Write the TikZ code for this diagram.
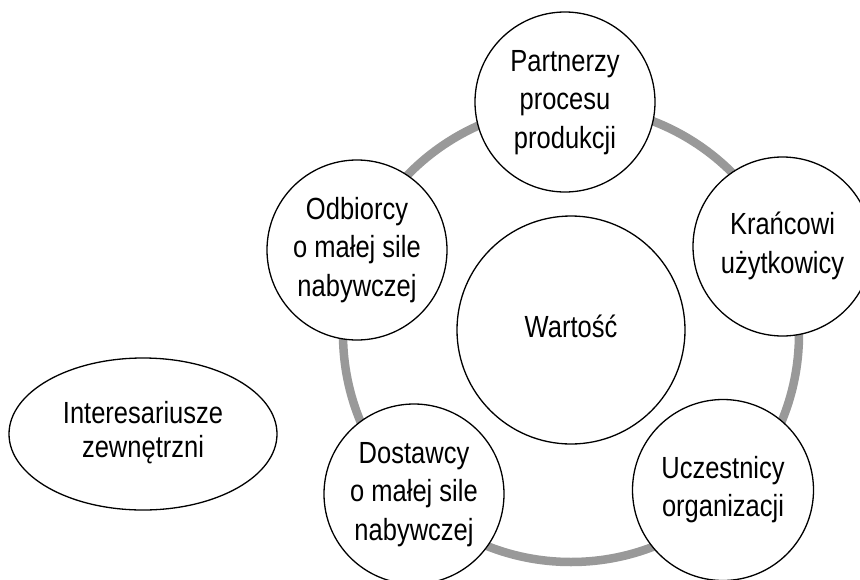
\documentclass[tikz,border=0pt]{standalone}
\usepackage{graphicx}
\usepackage{fontspec}
\setmainfont{Liberation Sans}
\usetikzlibrary{shapes.geometric}
\newcommand{\tallbox}[2]{\scalebox{1}[1.2]{\fontsize{25.5}{#1}\selectfont\begin{tabular}{@{}c@{}}#2\end{tabular}}}
\begin{document}
\begin{tikzpicture}[x=1pt,y=-1pt,
  actor/.style={circle,draw=black,line width=1.3pt,fill=white,minimum size=#1,inner sep=0pt,align=center},
  ring/.style={draw=black!40,line width=8.5pt}]
\useasboundingbox (0,0) rectangle (860,579);
\coordinate (rc) at (571,334);
\draw[ring] (rc) circle[radius=228];
\node[actor=228pt] (war) at (571,330) {\tallbox{32}{Wartość}};
\node[actor=180pt] (par) at (565,102) {\tallbox{32}{Partnerzy\\procesu\\produkcji}};
\node[actor=179pt] (kra) at (782.5,246.5) {\tallbox{32}{Krańcowi\\użytkowicy}};
\node[actor=181pt] (ucz) at (723,490) {\tallbox{32}{Uczestnicy\\organizacji}};
\node[actor=180pt] (dos) at (414,494) {\tallbox{32}{Dostawcy\\o małej sile\\nabywczej}};
\node[actor=180pt] (odb) at (357,250) {\tallbox{32}{Odbiorcy\\o małej sile\\nabywczej}};
\node[ellipse,draw=black,line width=1.3pt,minimum width=268pt,minimum height=152pt,inner sep=0pt,align=center] (int) at (143,434) {\tallbox{28.3}{Interesariusze\\zewnętrzni}};
\end{tikzpicture}
\end{document}
